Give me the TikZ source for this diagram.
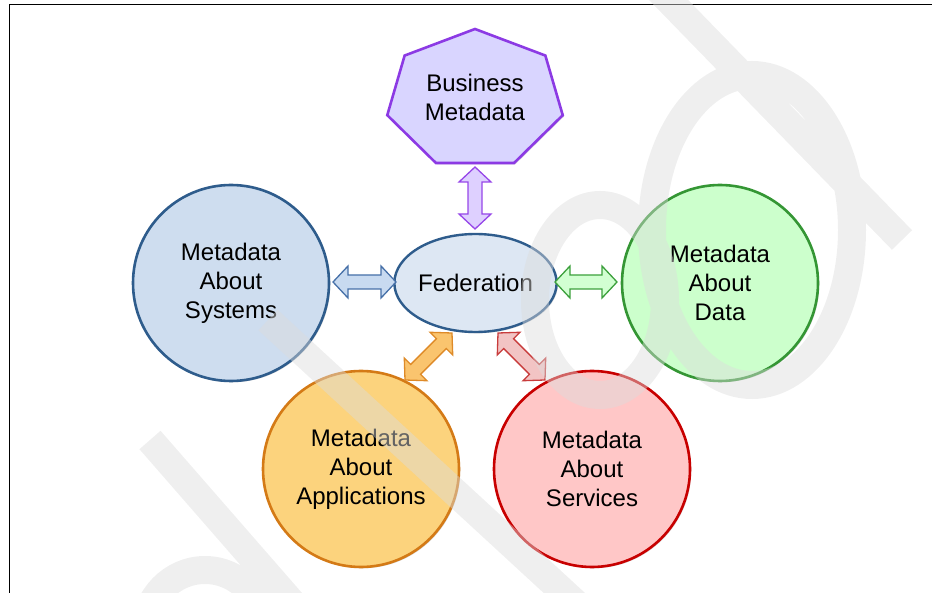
\documentclass[tikz,border=0pt]{standalone}
\usepackage{fontspec}
\setmainfont{Liberation Sans}
\usetikzlibrary{calc,shapes.geometric,shadows}

\definecolor{sysfill}{RGB}{206,221,239}
\definecolor{sysline}{RGB}{46,92,140}
\definecolor{fedfill}{RGB}{221,231,243}
\definecolor{bluearrfill}{RGB}{200,218,240}
\definecolor{bluearrline}{RGB}{70,112,168}
\definecolor{busfill}{RGB}{217,213,255}
\definecolor{busline}{RGB}{140,58,228}
\definecolor{purarrfill}{RGB}{222,208,255}
\definecolor{purarrline}{RGB}{150,70,232}
\definecolor{datfill}{RGB}{204,255,204}
\definecolor{datline}{RGB}{52,150,52}
\definecolor{grnarrfill}{RGB}{210,255,210}
\definecolor{grnarrline}{RGB}{60,160,60}
\definecolor{appfill}{RGB}{252,211,125}
\definecolor{appline}{RGB}{212,122,22}
\definecolor{orarrfill}{RGB}{250,196,110}
\definecolor{orarrline}{RGB}{222,138,40}
\definecolor{svcfill}{RGB}{255,199,199}
\definecolor{svcline}{RGB}{200,0,0}
\definecolor{rdarrfill}{RGB}{242,196,196}
\definecolor{rdarrline}{RGB}{200,60,60}
\definecolor{wmgray}{RGB}{220,220,220}

\tikzset{
  labelfont/.style={font=\fontsize{24}{29}\selectfont, align=center},
  softshadow/.style={drop shadow={shadow xshift=1.3pt, shadow yshift=-1.3pt, opacity=0.3}},
  topic/.style={circle, minimum size=196pt, inner sep=0pt, line width=2.6pt,
    labelfont, softshadow},
  hubstyle/.style={ellipse, minimum width=151pt, minimum height=98pt, inner sep=0pt,
    line width=2.4pt, labelfont, fill=fedfill, draw=sysline, softshadow},
  blockarr/.style={line width=1.3pt, line join=miter},
  watermark/.style={draw=wmgray, line width=28pt, draw opacity=0.45, line cap=butt}
}

% double-headed block arrow between two tip points
\newcommand\blockarrow[3]{%
  \coordinate (ha) at ($(#1)!15pt!(#2)$);
  \coordinate (hb) at ($(#2)!15pt!(#1)$);
  \draw[blockarr,#3] (#1) -- ($(ha)!16pt!90:(#2)$) -- ($(ha)!7pt!90:(#2)$)
    -- ($(hb)!7pt!-90:(#1)$) -- ($(hb)!16pt!-90:(#1)$) -- (#2)
    -- ($(hb)!16pt!90:(#1)$) -- ($(hb)!7pt!90:(#1)$)
    -- ($(ha)!7pt!-90:(#2)$) -- ($(ha)!16pt!-90:(#2)$) -- cycle;}

\begin{document}
\begin{tikzpicture}[x=1pt,y=-1pt]
  \useasboundingbox (0,0) rectangle (932,593);

  % page frame
  \draw[line width=1pt] (9,593) -- (9,5) -- (932,5);

  % business metadata heptagon
  \draw[line width=2.6pt, line join=miter, fill=busfill, draw=busline, softshadow]
    (475,29) foreach \k in {1,...,6} {
      -- ({475+90*cos(90+\k*360/7)},{99.5-70.5*sin(90+\k*360/7)}) } -- cycle;
  \node[labelfont] (bus) at (475,97.5) {Business\\Metadata};

  % federation hub and the surrounding topics
  \node[hubstyle] (fed) at (475.5,283) {Federation};
  \node[topic, fill=sysfill, draw=sysline] (sys) at (231,283) {Metadata\\About\\Systems};
  \node[topic, fill=datfill, draw=datline] (dat) at (720,283) {Metadata\\About\\Data};
  \node[topic, fill=appfill, draw=appline] (app) at (361,469) {Metadata\\About\\Applications};
  \node[topic, fill=svcfill, draw=svcline] (svc) at (592,469) {Metadata\\About\\Services};

  % arrow tips
  \coordinate (busTip) at (475,167);
  \coordinate (fedTop) at (475,229);
  \coordinate (sysTip) at (333,282);
  \coordinate (fedW)   at (396,282);
  \coordinate (fedE)   at (555,282);
  \coordinate (datTip) at (617,282);
  \coordinate (fedSW)  at (452,333);
  \coordinate (appTip) at (405,380);
  \coordinate (fedSE)  at (498,333);
  \coordinate (svcTip) at (545,380);

  \blockarrow{busTip}{fedTop}{fill=purarrfill, draw=purarrline}
  \blockarrow{sysTip}{fedW}{fill=bluearrfill, draw=bluearrline}
  \blockarrow{fedE}{datTip}{fill=grnarrfill, draw=grnarrline}
  \blockarrow{fedSW}{appTip}{fill=orarrfill, draw=orarrline}
  \blockarrow{fedSE}{svcTip}{fill=rdarrfill, draw=rdarrline}

  % faint watermark lettering laid over the page
  \draw[watermark]
    (655,-14) -- (902,240)
    (752,230) ellipse [x radius=100, y radius=155]
    (600,300) ellipse [x radius=65, y radius=95]
    (205,632) ellipse [x radius=60, y radius=62]
    (150,440) -- (300,612)
    (268,320) -- (585,612);
\end{tikzpicture}
\end{document}
